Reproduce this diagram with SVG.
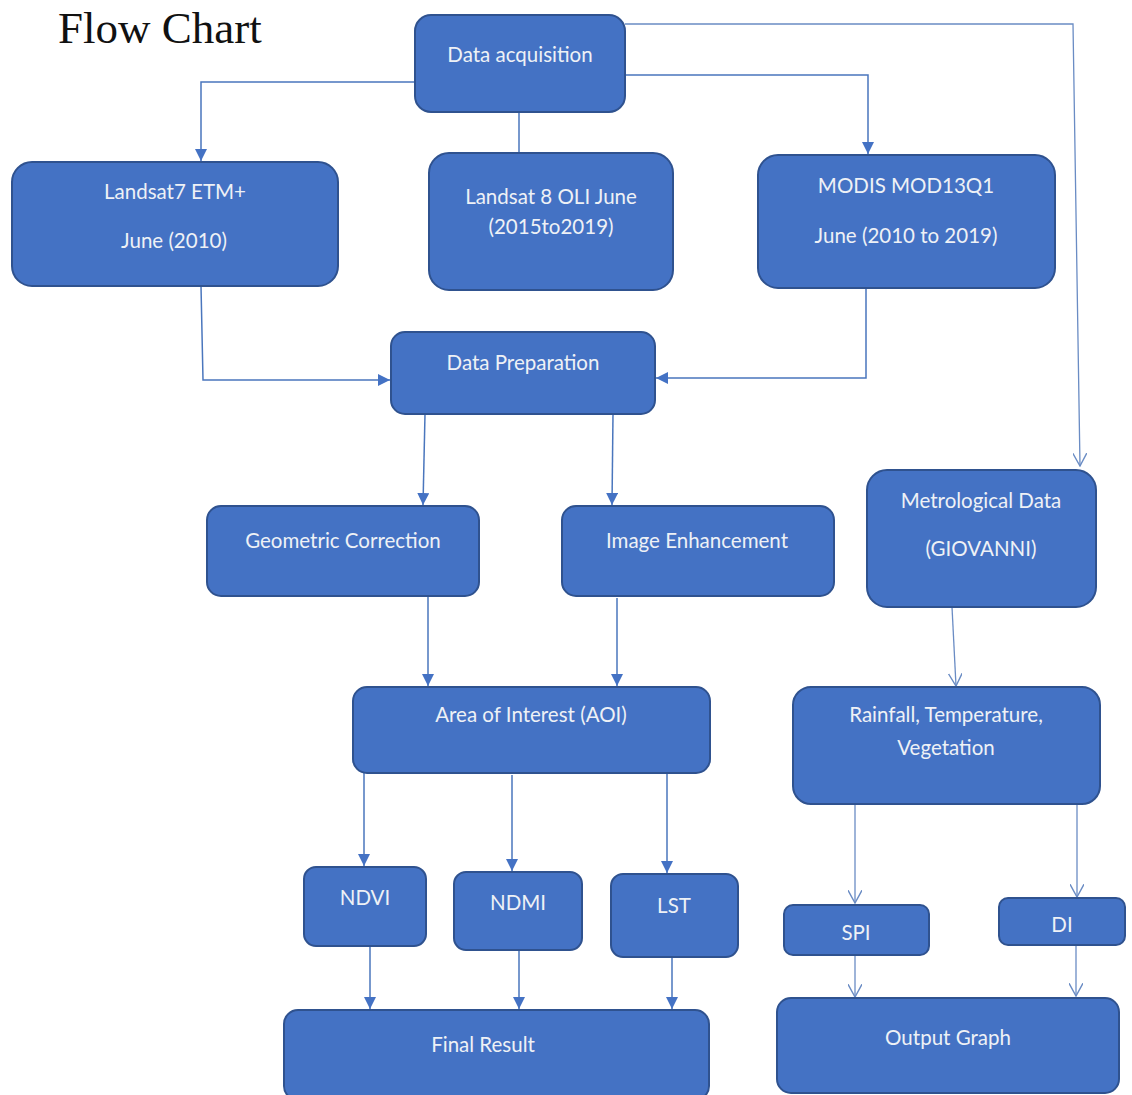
<svg xmlns="http://www.w3.org/2000/svg" width="1132" height="1095" viewBox="0 0 1132 1095">
<style>
.box{fill:#4472C4;stroke:#2F528F;stroke-width:2}
.t{font-family:Lato,"Liberation Sans",sans-serif;font-size:20.5px;fill:#EEF1F6;text-anchor:middle}
.c{fill:none;stroke:#4A76BD;stroke-width:1.5}
.o{fill:none;stroke:#6A8CC4;stroke-width:1.3}
</style>
<defs>
<marker id="af" viewBox="0 0 10 10" refX="10" refY="5" markerWidth="12" markerHeight="12" markerUnits="userSpaceOnUse" orient="auto">
<path d="M0,0 L10,5 L0,10 z" fill="#4472C4"/>
</marker>
<marker id="ao" viewBox="0 0 12 12" refX="11" refY="6" markerWidth="14" markerHeight="14" markerUnits="userSpaceOnUse" orient="auto">
<path d="M0,0 L11,6 L0,12" fill="none" stroke="#6A8CC4" stroke-width="1.2"/>
</marker>
</defs>
<rect width="1132" height="1095" fill="#FFFFFF"/>
<text x="58" y="43" font-family="'Liberation Serif',serif" font-size="45" fill="#111">Flow Chart</text>
<g id="connectors">
<polyline class="c" points="415,82 201,82 201,161" marker-end="url(#af)"/>
<line class="c" x1="519" y1="112" x2="519" y2="153"/>
<polyline class="c" points="625,75 868,75 868,154" marker-end="url(#af)"/>
<polyline class="o" points="625,24 1073,24 1080,466" marker-end="url(#ao)"/>
<polyline class="c" points="201,286 203,380 390,380" marker-end="url(#af)"/>
<polyline class="c" points="866,288 866,378 656,378" marker-end="url(#af)"/>
<line class="c" x1="425" y1="414" x2="423" y2="505" marker-end="url(#af)"/>
<line class="c" x1="613" y1="414" x2="612" y2="505" marker-end="url(#af)"/>
<line class="c" x1="428" y1="596" x2="428" y2="686" marker-end="url(#af)"/>
<line class="c" x1="617" y1="598" x2="617" y2="686" marker-end="url(#af)"/>
<line class="c" x1="364" y1="773" x2="364" y2="866" marker-end="url(#af)"/>
<line class="c" x1="512" y1="775" x2="512" y2="871" marker-end="url(#af)"/>
<line class="c" x1="667" y1="773" x2="667" y2="873" marker-end="url(#af)"/>
<line class="c" x1="370" y1="946" x2="370" y2="1009" marker-end="url(#af)"/>
<line class="c" x1="519" y1="950" x2="519" y2="1009" marker-end="url(#af)"/>
<line class="c" x1="672" y1="957" x2="672" y2="1009" marker-end="url(#af)"/>
<line class="o" x1="952" y1="607" x2="956" y2="686" marker-end="url(#ao)"/>
<line class="o" x1="855" y1="804" x2="855" y2="903" marker-end="url(#ao)"/>
<line class="o" x1="1077" y1="804" x2="1077" y2="897" marker-end="url(#ao)"/>
<line class="o" x1="855" y1="955" x2="855" y2="997" marker-end="url(#ao)"/>
<line class="o" x1="1076" y1="945" x2="1076" y2="996" marker-end="url(#ao)"/>
</g>
<g id="data-acquisition"><rect class="box" x="415" y="15" width="210" height="97" rx="16"/><text class="t" x="520" y="62">Data acquisition</text></g>
<g id="landsat7"><rect class="box" x="12" y="162" width="326" height="124" rx="20"/><text class="t" x="175" y="199">Landsat7 ETM+</text><text class="t" x="174" y="248">June (2010)</text></g>
<g id="landsat8"><rect class="box" x="429" y="153" width="244" height="137" rx="20"/><text class="t" x="551" y="204">Landsat 8 OLI June</text><text class="t" x="551" y="234">(2015to2019)</text></g>
<g id="modis"><rect class="box" x="758" y="155" width="297" height="133" rx="20"/><text class="t" x="906" y="193">MODIS MOD13Q1</text><text class="t" x="906" y="243">June (2010 to 2019)</text></g>
<g id="data-preparation"><rect class="box" x="391" y="332" width="264" height="82" rx="14"/><text class="t" x="523" y="370">Data Preparation</text></g>
<g id="geometric-correction"><rect class="box" x="207" y="506" width="272" height="90" rx="14"/><text class="t" x="343" y="548">Geometric Correction</text></g>
<g id="image-enhancement"><rect class="box" x="562" y="506" width="272" height="90" rx="14"/><text class="t" x="697" y="548">Image Enhancement</text></g>
<g id="aoi"><rect class="box" x="353" y="687" width="357" height="86" rx="14"/><text class="t" x="531" y="722">Area of Interest (AOI)</text></g>
<g id="ndvi"><rect class="box" x="304" y="867" width="122" height="79" rx="12"/><text class="t" x="365" y="905">NDVI</text></g>
<g id="ndmi"><rect class="box" x="454" y="872" width="128" height="78" rx="12"/><text class="t" x="518" y="910">NDMI</text></g>
<g id="lst"><rect class="box" x="611" y="874" width="127" height="83" rx="12"/><text class="t" x="674" y="913">LST</text></g>
<g id="final-result"><rect class="box" x="284" y="1010" width="425" height="90" rx="14"/><text class="t" x="483" y="1052">Final Result</text></g>
<g id="metrological"><rect class="box" x="867" y="470" width="229" height="137" rx="20"/><text class="t" x="981" y="508">Metrological Data</text><text class="t" x="981" y="556">(GIOVANNI)</text></g>
<g id="rainfall"><rect class="box" x="793" y="687" width="307" height="117" rx="18"/><text class="t" x="946" y="722">Rainfall, Temperature,</text><text class="t" x="946" y="755">Vegetation</text></g>
<g id="spi"><rect class="box" x="784" y="905" width="145" height="50" rx="9"/><text class="t" x="856" y="940">SPI</text></g>
<g id="di"><rect class="box" x="999" y="898" width="126" height="47" rx="9"/><text class="t" x="1062" y="932">DI</text></g>
<g id="output-graph"><rect class="box" x="777" y="998" width="342" height="95" rx="14"/><text class="t" x="948" y="1045">Output Graph</text></g>
</svg>
